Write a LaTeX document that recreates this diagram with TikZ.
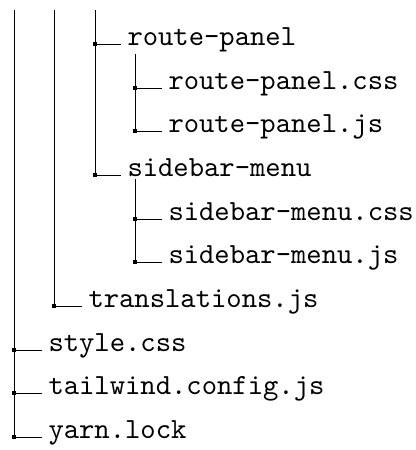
\documentclass[tikz,border=0pt]{standalone}
\usepackage{fontspec}
\setmonofont{lmmono10-regular.otf}
\begin{document}
\begin{tikzpicture}[x=0.5pt,y=-0.5pt,line width=0.5pt]
\tikzset{
  file/.style={anchor=base west,inner sep=0pt,font=\ttfamily\fontsize{14.6pt}{17pt}\selectfont},
  dotbox/.style={rectangle,fill=black,minimum size=1.8pt,inner sep=0pt},
  branch/.style={shorten >=2.8pt}
}
\useasboundingbox (0,0) rectangle (416,450);
% dots
\node[dotbox] (d1) at (95,44) {};
\node[dotbox] (d2) at (135,88) {};
\node[dotbox] (d3) at (135,131) {};
\node[dotbox] (d4) at (95,175) {};
\node[dotbox] (d5) at (135,219) {};
\node[dotbox] (d6) at (135,262) {};
\node[dotbox] (d7) at (54,306) {};
\node[dotbox] (d8) at (14,350) {};
\node[dotbox] (d9) at (14,393) {};
\node[dotbox] (d10) at (14,437) {};
% top free ends
\coordinate (t1) at (14,10);
\coordinate (t2) at (54,10);
\coordinate (t3) at (95,10);
% labels
\node[file] (n1) at (127,45.5) {route-panel};
\node[file] (n2) at (168,89.5) {route-panel.css};
\node[file] (n3) at (168,132.5) {route-panel.js};
\node[file] (n4) at (127,176.5) {sidebar-menu};
\node[file] (n5) at (168,220.5) {sidebar-menu.css};
\node[file] (n6) at (168,263.5) {sidebar-menu.js};
\node[file] (n7) at (88,307.5) {translations.js};
\node[file] (n8) at (48,351.5) {style.css};
\node[file] (n9) at (48,394.5) {tailwind.config.js};
\node[file] (n10) at (48,438.5) {yarn.lock};
% vertical trunks
\draw (t1) -- (d10.center);
\draw (t2) -- (d7.center);
\draw (t3) -- (d4.center);
\draw ([yshift=-1pt]d2 |- n1.south) -- (d3.center);
\draw ([yshift=-1pt]d5 |- n4.south) -- (d6.center);
% branches
\foreach \i in {1,...,10}{
  \draw[branch] (d\i.center) -- (d\i.center -| n\i.west);
}
\end{tikzpicture}
\end{document}
